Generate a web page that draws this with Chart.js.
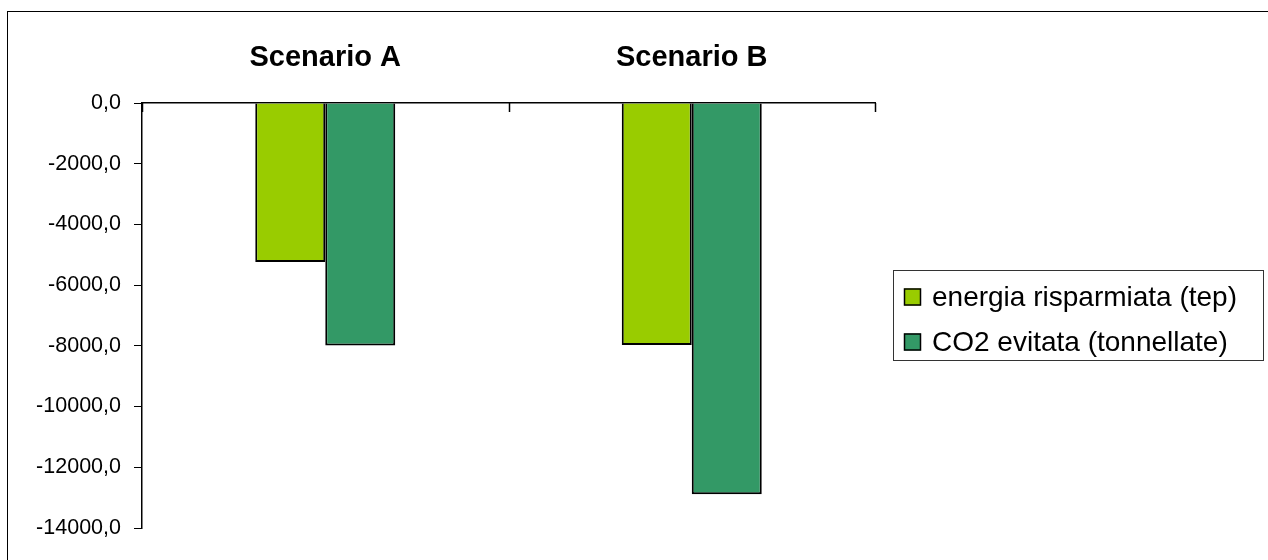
<!DOCTYPE html>
<html>
<head>
<meta charset="utf-8">
<style>
  html, body { margin: 0; padding: 0; background: #fff; overflow: hidden; }
  #wrap { position: relative; width: 1268px; height: 560px; }
</style>
<script src="https://cdn.jsdelivr.net/npm/chart.js@4.4.1/dist/chart.umd.min.js"></script>
</head>
<body>
<div id="wrap"><canvas id="chart" width="1268" height="560"></canvas></div>
<script>
// Scenari a confronto
const categories = ['Scenario A', 'Scenario B'];
const seriesNames = ['energia risparmiata (tep)', 'CO2 evitata (tonnellate)'];
const energiaRisparmiata = [-5240, -7970];
const co2Evitata = [-7990, -12890];
const seriesColors = ['#99CC00', '#339966'];
const yMin = -14000;
const yMax = 0;
const yStep = 2000;

const FONT = '"Liberation Sans", Arial, sans-serif';

// Cornice esterna e sfondo bianco
const framePlugin = {
  id: 'frame',
  beforeDraw(chart) {
    const ctx = chart.ctx;
    ctx.save();
    ctx.fillStyle = '#fff';
    ctx.fillRect(0, 0, chart.width, chart.height);
    ctx.strokeStyle = '#000';
    ctx.lineWidth = 1;
    ctx.strokeRect(7.5, 11.5, chart.width + 40, chart.height + 40);
    ctx.restore();
  }
};

// Tacche dell'asse delle categorie, rivolte verso il basso
const categoryTicksPlugin = {
  id: 'categoryTicks',
  afterDraw(chart) {
    const xs = chart.scales.x;
    const n = chart.data.labels.length;
    const step = (xs.right - xs.left) / n;
    const ctx = chart.ctx;
    ctx.save();
    ctx.strokeStyle = '#000';
    ctx.lineWidth = 1.5;
    for (let i = 0; i <= n; i++) {
      const x = Math.round(xs.left + i * step) + 0.5;
      ctx.beginPath();
      ctx.moveTo(x, xs.bottom);
      ctx.lineTo(x, xs.bottom + 9);
      ctx.stroke();
    }
    ctx.restore();
  }
};

// Legenda riquadrata a destra
const boxedLegendPlugin = {
  id: 'boxedLegend',
  afterDraw(chart) {
    const ctx = chart.ctx;
    const left = 893.5, top = 270.5, right = 1263.5, bottom = 360.5;
    ctx.save();
    ctx.strokeStyle = '#333';
    ctx.lineWidth = 1;
    ctx.strokeRect(left, top, right - left, bottom - top);
    ctx.font = '28px ' + FONT;
    ctx.textBaseline = 'middle';
    ctx.textAlign = 'left';
    chart.data.datasets.forEach((ds, i) => {
      const cy = 297 + i * 45;
      ctx.fillStyle = ds.backgroundColor;
      ctx.fillRect(904, cy - 8.5, 17, 17);
      ctx.strokeStyle = '#000';
      ctx.lineWidth = 1.5;
      ctx.strokeRect(904.5, cy - 8, 16, 16);
      ctx.fillStyle = '#000';
      ctx.fillText(ds.label, 932, cy + 1);
    });
    ctx.restore();
  }
};

const ctx = document.getElementById('chart').getContext('2d');
new Chart(ctx, {
  type: 'bar',
  data: {
    labels: categories,
    datasets: [
      {
        label: seriesNames[0],
        data: energiaRisparmiata,
        backgroundColor: seriesColors[0],
        borderColor: '#000',
        borderWidth: 2
      },
      {
        label: seriesNames[1],
        data: co2Evitata,
        backgroundColor: seriesColors[1],
        borderColor: '#000',
        borderWidth: 2
      }
    ]
  },
  options: {
    responsive: false,
    animation: false,
    devicePixelRatio: 1,
    layout: { padding: { left: 0, top: 0, right: 393, bottom: 32 } },
    datasets: {
      bar: { categoryPercentage: 0.382, barPercentage: 1.0 }
    },
    plugins: {
      legend: { display: false },
      tooltip: { enabled: false },
      title: { display: false }
    },
    scales: {
      x: {
        position: 'top',
        offset: true,
        grid: { display: false, drawTicks: false, offset: true },
        border: { display: true, color: '#000', width: 1.5 },
        ticks: {
          color: '#000',
          padding: 28,
          font: { family: FONT, size: 29, weight: 'bold' }
        },
        afterFit(scale) { scale.height = 103; }
      },
      y: {
        min: yMin,
        max: yMax,
        grid: {
          drawOnChartArea: false,
          drawTicks: true,
          tickLength: 8,
          color: '#000',
          lineWidth: 1
        },
        border: { display: true, color: '#000', width: 1.5 },
        ticks: {
          stepSize: yStep,
          color: '#000',
          padding: 13,
          font: { family: FONT, size: 21.5 },
          callback: (v) => v.toFixed(1).replace('.', ',')
        },
        afterFit(scale) { scale.width = 142; }
      }
    }
  },
  plugins: [framePlugin, categoryTicksPlugin, boxedLegendPlugin]
});
</script>
</body>
</html>
